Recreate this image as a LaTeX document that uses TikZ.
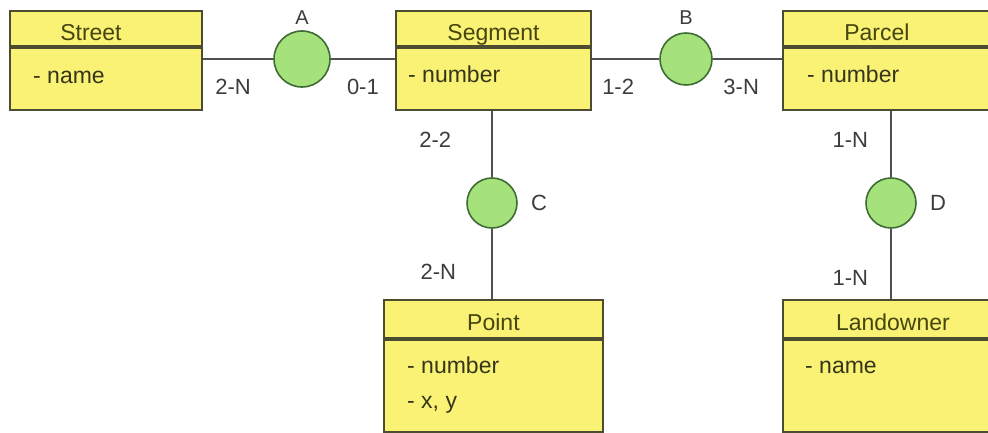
\documentclass[tikz,border=0pt]{standalone}
\usepackage{fontspec}
\setsansfont{Liberation Sans}
\usepackage{tikz}
\usetikzlibrary{positioning, calc}
\definecolor{erfill}{HTML}{F9F274}
\definecolor{erline}{HTML}{4C4C30}
\definecolor{ertitle}{HTML}{45450F}
\definecolor{erattr}{HTML}{35351A}
\definecolor{relfill}{HTML}{A6E27C}
\definecolor{relline}{HTML}{3F6B34}
\definecolor{linkgray}{HTML}{505050}
\definecolor{cardgray}{HTML}{3C3C3C}

\begin{document}
\begin{tikzpicture}[
    x=1pt, y=-1pt,
    head/.style={draw=erline, fill=erfill, line width=1.9pt, anchor=north west, inner sep=0pt,
        minimum height=35pt, text height=24pt, text depth=0pt,
        font=\sffamily\fontsize{23}{27}\selectfont, text=ertitle},
    body/.style={draw=erline, fill=erfill, line width=1.9pt, anchor=north west, inner sep=0pt},
    attr/.style={anchor=base west, inner sep=0pt, font=\sffamily\fontsize{23}{27}\selectfont, text=erattr},
    rel/.style={circle, draw=relline, fill=relfill, line width=1.6pt, minimum size=52pt, inner sep=0pt},
    link/.style={draw=linkgray, line width=1.8pt},
    card/.style={inner sep=0pt, font=\sffamily\fontsize{22}{26}\selectfont, text=cardgray},
    rellabel/.style={inner sep=0pt, font=\sffamily\fontsize{20}{24}\selectfont, text=cardgray},
]
    \useasboundingbox (0,0) rectangle (988,433);
    \clip (0,0) rectangle (988,433);

    % entities
    \node[head, minimum width=192pt] (streethead) at (9,10) {\hspace*{-30pt}Street};
    \node[body, minimum width=192pt, minimum height=62pt] (streetbody) at (streethead.south west) {};
    \node[attr] (streetname) at (33,84) {- name};

    \node[head, minimum width=195pt] (seghead) at (395,10) {Segment};
    \node[body, minimum width=195pt, minimum height=62pt] (segbody) at (seghead.south west) {};
    \node[attr] (segnumber) at (408,83) {- number};

    \node[head, minimum width=220pt] (parcelhead) at (782,10) {\hspace*{-32pt}Parcel};
    \node[body, minimum width=220pt, minimum height=62pt] (parcelbody) at (parcelhead.south west) {};
    \node[attr] (parcelnumber) at (807,83) {- number};

    \node[head, minimum width=219pt, minimum height=38pt] (pointhead) at (383,299) {Point};
    \node[body, minimum width=219pt, minimum height=92pt] (pointbody) at (pointhead.south west) {};
    \node[attr] (pointnumber) at (407,373) {- number};
    \node[attr] (pointxy) at (407,408) {- x, y};

    \node[head, minimum width=220pt, minimum height=38pt] (landhead) at (782,299) {Landowner};
    \node[body, minimum width=220pt, minimum height=92pt] (landbody) at (landhead.south west) {};
    \node[attr] (landname) at (805,373) {- name};

    % relationships
    \node[rel, minimum size=56pt, label={[rellabel, name=alabel, label distance=5pt]above:A}] (rela) at (302,59) {};
    \node[rel, label={[rellabel, name=blabel, label distance=7pt]above:B}] (relb) at (686,59) {};
    \node[rel, minimum size=50pt, label={[card, name=clabel, label distance=13pt]right:C}] (relc) at (492,203) {};
    \node[rel, minimum size=50pt, label={[card, name=dlabel, label distance=13pt]right:D}] (reld) at (891,203) {};

    % connectors
    \draw[link] (streetbody.east |- rela) -- node[card, pos=0.43, below=19pt] (carda1) {2-N} (rela);
    \draw[link] (rela) -- node[card, midway, below=19pt] (carda2) {0-1} (segbody.west |- rela);
    \draw[link] (segbody.east |- relb) -- node[card, pos=0.39, below=19pt] (cardb1) {1-2} (relb);
    \draw[link] (relb) -- node[card, pos=0.41, below=19pt] (cardb2) {3-N} (parcelbody.west |- relb);
    \draw[link] (relc |- segbody.south) -- node[card, pos=0.43, left=40pt] (cardc1) {2-2} (relc);
    \draw[link] (relc) -- node[card, pos=0.61, left=35pt] (cardc2) {2-N} (relc |- pointhead.north);
    \draw[link] (reld |- parcelbody.south) -- node[card, pos=0.44, left=22pt] (cardd1) {1-N} (reld);
    \draw[link] (reld) -- node[card, pos=0.7, left=22pt] (cardd2) {1-N} (reld |- landhead.north);
\end{tikzpicture}
\end{document}
